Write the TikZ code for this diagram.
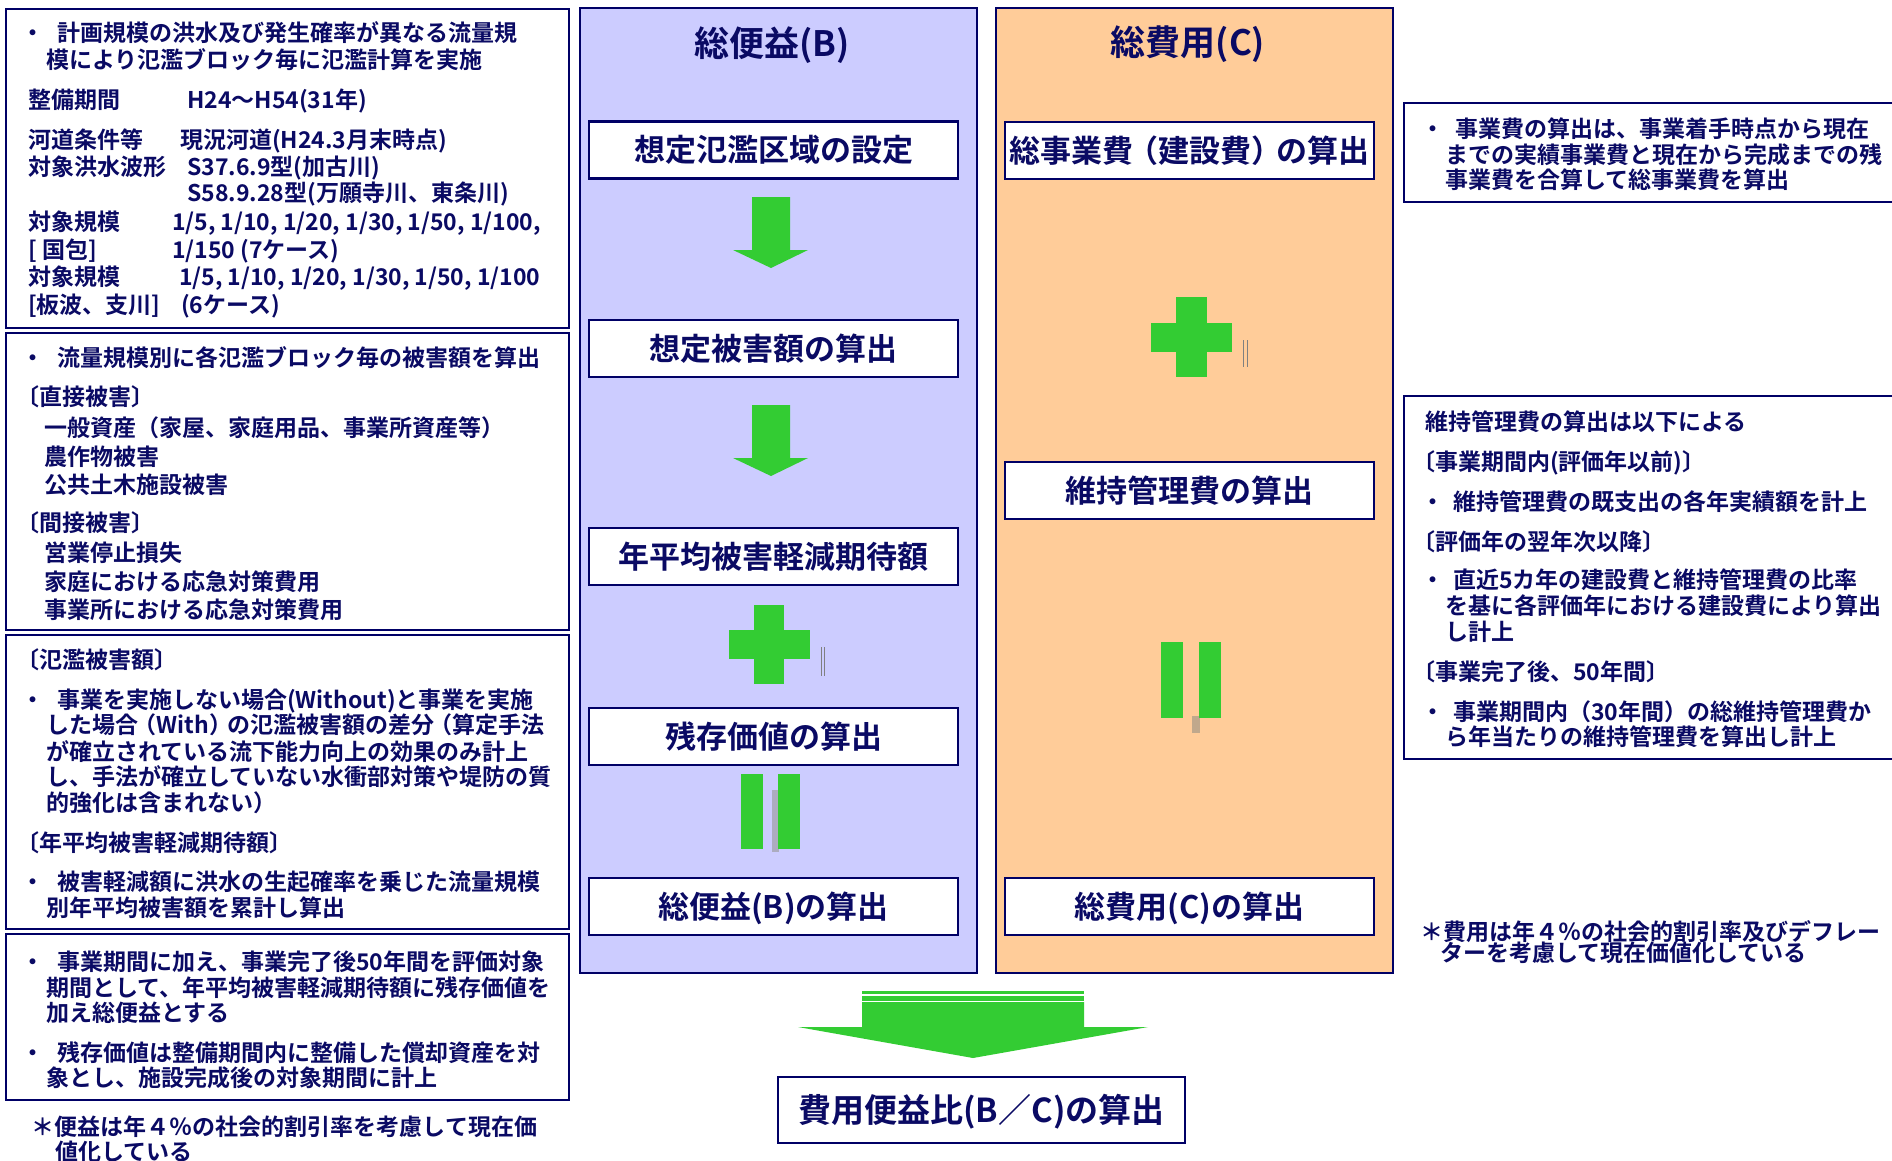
\documentclass[tikz,border=0pt]{standalone}
\usepackage{fontspec}
\setmainfont{Noto Sans CJK JP}[UprightFont=* Bold]
\definecolor{tx}{RGB}{10,10,100}
\definecolor{bd}{RGB}{0,0,102}
\definecolor{lav}{RGB}{204,204,255}
\definecolor{org}{RGB}{255,204,153}
\definecolor{grn}{RGB}{51,204,51}
\definecolor{gry}{RGB}{172,172,192}
\definecolor{tan}{RGB}{192,168,140}
\newcommand\tline[4]{\node[bt] (#1) at (#2,#3) {#4};}
\newcommand\jlp{\kern-0.2em（}
\newcommand\jrp{）\kern-0.2em}
\begin{document}
\begin{tikzpicture}[x=1pt,y=-1pt,
  bt/.style={inner sep=0pt, anchor=base west, yshift=-8.7pt, text=tx, font=\fontsize{23}{23}\selectfont},
  tb/.style={draw=bd, line width=2pt},
  colb/.style={draw=bd, line width=2.4pt},
  fbox/.style={draw=bd, line width=2.2pt, fill=white, minimum width=369pt, minimum height=57pt, inner sep=0pt, text=tx, font=\fontsize{31}{31}\selectfont, text height=23.6pt, text depth=0pt},
  ttl/.style={inner sep=0pt, anchor=base, yshift=-13.3pt, text=tx, font=\fontsize{35}{35}\selectfont},
  gshape/.style={fill=grn},
  art/.style={draw=gray, line width=0.8pt}]
\useasboundingbox (0,0) rectangle (1892,1160);
\fill[white] (0,0) rectangle (1892,1160);
\clip (0,0) rectangle (1892,1160);

% columns
\draw[colb, fill=lav] (580,8) rectangle (977,973);
\draw[colb, fill=org] (996,8) rectangle (1393,973);
\node[ttl] (tB) at (772,43) {総便益(B)};
\node[ttl] (tC) at (1188,42) {総費用(C)};

% benefit column flow
\node[fbox] (b1) at (773.5,150) {想定氾濫区域の設定};
\node[fbox] (b2) at (773.5,348.5) {想定被害額の算出};
\node[fbox] (b3) at (773.5,556.5) {年平均被害軽減期待額};
\node[fbox] (b4) at (773.5,736.5) {残存価値の算出};
\node[fbox] (b5) at (773.5,906.5) {総便益(B)の算出};
\fill[gshape] (752,197) -- (790,197) -- (790,250) -- (808,250) -- (771,268) -- (733,250) -- (752,250) -- cycle;
\fill[gshape] (752,405) -- (790,405) -- (790,458) -- (808,458) -- (771,476) -- (733,458) -- (752,458) -- cycle;
\fill[gshape] (754,605) rectangle (784,684);
\fill[gshape] (729,630) rectangle (810,659);
\draw[art] (821,647) -- (821,676);
\draw[art] (824,647) -- (824,676);
\fill[gry] (772,790) rectangle (779,852);
\fill[gshape] (741,774) rectangle (763,849);
\fill[gshape] (778,774) rectangle (800,849);

% cost column flow
\node[fbox] (c1) at (1189.5,150.5) {総事業費\jlp 建設費\jrp の算出};
\node[fbox] (c2) at (1189.5,490.5) {維持管理費の算出};
\node[fbox] (c3) at (1189.5,906.5) {総費用(C)の算出};
\fill[gshape] (1176,297) rectangle (1207,377);
\fill[gshape] (1151,323) rectangle (1232,352);
\draw[art] (1243,340) -- (1243,367);
\draw[art] (1247,340) -- (1247,367);
\fill[tan] (1192,716) rectangle (1200,733);
\fill[gshape] (1161,642) rectangle (1183,718);
\fill[gshape] (1199,642) rectangle (1221,718);

% big arrow and B/C box
\fill[gshape] (862,991) rectangle (1084,994);
\fill[gshape] (862,996) rectangle (1084,1001);
\fill[gshape] (862,1002) -- (1084,1002) -- (1084,1027) -- (1148,1027) -- (973,1058) -- (798,1027) -- (862,1027) -- cycle;
\node[fbox, minimum width=407pt, minimum height=66pt, font=\fontsize{33}{33}\selectfont, text height=25.1pt] (bc) at (981.5,1110) {費用便益比(B／C)の算出};

% left box 1
\draw[tb] (6,9) rectangle (569,328);
\tline{a0}{21.5}{33}{・}
\tline{a1}{57}{33}{計画規模の洪水及び発生確率が異なる流量規}
\tline{a2}{46}{60}{模により氾濫ブロック毎に氾濫計算を実施}
\tline{a3}{28}{100}{整備期間}
\tline{a4}{187}{100}{H24～H54(31年)}
\tline{a5}{28}{140}{河道条件等}
\tline{a6}{180}{140}{現況河道(H24.3月末時点)}
\tline{a7}{28}{167}{対象洪水波形}
\tline{a8}{187}{167}{S37.6.9型(加古川)}
\tline{a9}{187}{193}{S58.9.28型(万願寺川、東条川)}
\tline{a10}{28}{222}{対象規模}
\tline{a11}{172}{222}{1/5, 1/10, 1/20, 1/30, 1/50, 1/100,}
\tline{a12}{28}{250}{[ 国包]}
\tline{a13}{172}{250}{1/150 (7ケース)}
\tline{a14}{28}{277}{対象規模}
\tline{a15}{179}{277}{1/5, 1/10, 1/20, 1/30, 1/50, 1/100}
\tline{a16}{28}{305}{[板波、支川]}
\tline{a17}{181}{305}{(6ケース)}

% left box 2
\draw[tb] (6,333) rectangle (569,630);
\tline{b0x}{21.5}{358}{・}
\tline{b1x}{57}{358}{流量規模別に各氾濫ブロック毎の被害額を算出}
\tline{b2x}{16}{397}{〔直接被害〕}
\tline{b3x}{44}{428}{一般資産（家屋、家庭用品、事業所資産等）}
\tline{b4x}{44}{457}{農作物被害}
\tline{b5x}{44}{485}{公共土木施設被害}
\tline{b6x}{16}{523}{〔間接被害〕}
\tline{b7x}{44}{553}{営業停止損失}
\tline{b8x}{44}{582}{家庭における応急対策費用}
\tline{b9x}{44}{610}{事業所における応急対策費用}

% left box 3
\draw[tb] (6,635) rectangle (569,929);
\tline{c0x}{16}{660}{〔氾濫被害額〕}
\tline{c1x}{21.5}{700}{・}
\tline{c2x}{57}{700}{事業を実施しない場合(Without)と事業を実施}
\tline{c3x}{46}{725}{した場合\jlp With\jrp の氾濫被害額の差分\jlp 算定手法}
\tline{c4x}{46}{752}{が確立されている流下能力向上の効果のみ計上}
\tline{c5x}{46}{777}{し、手法が確立していない水衝部対策や堤防の質}
\tline{c6x}{46}{803}{的強化は含まれない\jrp}
\tline{c7x}{16}{843}{〔年平均被害軽減期待額〕}
\tline{c8x}{21.5}{882}{・}
\tline{c9x}{57}{882}{被害軽減額に洪水の生起確率を乗じた流量規模}
\tline{c10x}{46}{908}{別年平均被害額を累計し算出}

% left box 4
\draw[tb] (6,934) rectangle (569,1100);
\tline{d0}{21.5}{962}{・}
\tline{d1}{57}{962}{事業期間に加え、事業完了後50年間を評価対象}
\tline{d2}{46}{988}{期間として、年平均被害軽減期待額に残存価値を}
\tline{d3}{46}{1013}{加え総便益とする}
\tline{d4}{21.5}{1053}{・}
\tline{d5}{57}{1053}{残存価値は整備期間内に整備した償却資産を対}
\tline{d6}{46}{1078}{象とし、施設完成後の対象期間に計上}
\tline{e1}{31.5}{1127}{＊便益は年４％の社会的割引率を考慮して現在価}
\tline{e2}{55}{1152}{値化している}

% right box 1
\draw[tb] (1404,103) rectangle (1900,202);
\tline{f0}{1421.5}{129}{・}
\tline{f1}{1455}{129}{事業費の算出は、事業着手時点から現在}
\tline{f2}{1445}{155}{までの実績事業費と現在から完成までの残}
\tline{f3}{1445}{180}{事業費を合算して総事業費を算出}

% right box 2
\draw[tb] (1404,396) rectangle (1900,759);
\tline{g1}{1425}{422}{維持管理費の算出は以下による}
\tline{g2}{1412}{462}{〔事業期間内(評価年以前)〕}
\tline{g3}{1421.5}{502}{・}
\tline{g4}{1453}{502}{維持管理費の既支出の各年実績額を計上}
\tline{g5}{1412}{542}{〔評価年の翌年次以降〕}
\tline{g6}{1421.5}{580}{・}
\tline{g7}{1453}{580}{直近5カ年の建設費と維持管理費の比率}
\tline{g8}{1445}{606}{を基に各評価年における建設費により算出}
\tline{g9}{1445}{632}{し計上}
\tline{g10}{1412}{672}{〔事業完了後、50年間〕}
\tline{g11}{1421.5}{712}{・}
\tline{g12}{1453}{712}{事業期間内（30年間）の総維持管理費か}
\tline{g13}{1445}{737}{ら年当たりの維持管理費を算出し計上}

% right note
\tline{h1}{1420.5}{932}{＊費用は年４％の社会的割引率及びデフレー}
\tline{h2}{1440}{953}{ターを考慮して現在価値化している}
\end{tikzpicture}
\end{document}
